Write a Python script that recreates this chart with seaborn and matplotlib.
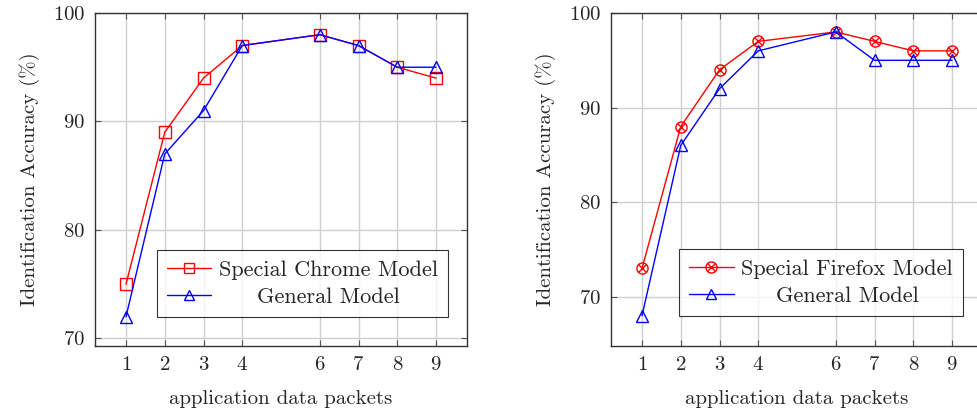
import matplotlib
matplotlib.use("Agg")
import matplotlib.pyplot as plt
import seaborn as sns
from matplotlib.lines import Line2D
from matplotlib.legend_handler import HandlerTuple
from matplotlib.transforms import Affine2D

# ---------------------------------------------------------------------------
# Data
# ---------------------------------------------------------------------------
packets = [1, 2, 3, 4, 6, 7, 8, 9]

chrome_special = [75, 89, 94, 97, 98, 97, 95, 94]
chrome_general = [72, 87, 91, 97, 98, 97, 95, 95]

firefox_special = [73, 88, 94, 97, 98, 97, 96, 96]
firefox_general = [68, 86, 92, 96, 98, 95, 95, 95]

left_yticks = [70, 80, 90, 100]
right_yticks = [70, 80, 90, 100]

# ---------------------------------------------------------------------------
# Style
# ---------------------------------------------------------------------------
sns.set_style("ticks")
plt.rcParams["font.family"] = ["cmr10", "DejaVu Serif"]
plt.rcParams["axes.formatter.use_mathtext"] = True
plt.rcParams["mathtext.fontset"] = "cm"

W, H = 977, 412
fig = plt.figure(figsize=(W / 100, H / 100), dpi=100)

def px_axes(x0, y0, x1, y1):
    # pixel box (top-left origin) -> figure axes
    return fig.add_axes([x0 / W, 1 - y1 / H, (x1 - x0) / W, (y1 - y0) / H])

ax1 = px_axes(95, 13, 467, 346)
ax2 = px_axes(611, 13, 983, 346)

FS = 15
LEG_FS = 16


def style_axes(ax, ylim, yticks):
    ax.set_xlim(0.2, 9.8)
    ax.set_ylim(*ylim)
    ax.set_xticks(packets)
    ax.set_yticks(yticks)
    ax.grid(True, color="#cfcfcf", lw=1.0)
    ax.set_axisbelow(True)
    ax.tick_params(direction="in", top=True, right=True, length=4, width=0.8,
                   color="#555555", labelsize=FS, pad=7)
    for s in ax.spines.values():
        s.set_color("#333333")
        s.set_linewidth(1.0)
    ax.set_xlabel("application data packets", fontsize=FS, labelpad=12)
    ax.set_ylabel("Identification Accuracy (%)", fontsize=FS, labelpad=9)


def make_legend(ax, handles, labels, anchor, **kw):
    leg = ax.legend(handles, labels, loc="lower right", bbox_to_anchor=anchor,
                    fontsize=LEG_FS, frameon=True, fancybox=False, edgecolor="black",
                    handlelength=2.0, borderpad=0.45, labelspacing=0.35,
                    handletextpad=0.35, borderaxespad=0.0, **kw)
    leg.get_frame().set_linewidth(0.8)
    return leg


# ---------------------------------------------------------------------------
# Left: Chrome
# ---------------------------------------------------------------------------
sns.lineplot(x=packets, y=chrome_special, ax=ax1, color="red", lw=1,
             marker="s", ms=8, mfc="none", mec="red", mew=1)
sns.lineplot(x=packets, y=chrome_general, ax=ax1, color="blue", lw=1,
             marker="^", ms=8, mfc="none", mec="blue", mew=1)
style_axes(ax1, (69.3, 100), left_yticks)

h_sq = Line2D([], [], color="red", lw=1, marker="s", ms=7, mfc="none", mec="red")
h_tri = Line2D([], [], color="blue", lw=1, marker="^", ms=7, mfc="none", mec="blue")
leg1 = make_legend(ax1, [h_sq, h_tri], ["Special Chrome Model", "General Model"],
                   (0.949, 0.087))

# ---------------------------------------------------------------------------
# Right: Firefox
# ---------------------------------------------------------------------------
sns.lineplot(x=packets, y=firefox_special, ax=ax2, color="red", lw=1,
             marker="o", ms=8, mfc="none", mec="red", mew=1)
sns.lineplot(x=packets, y=firefox_special, ax=ax2, color="red",
             linestyle="none", marker="x", ms=5.5, mec="red", mew=1)
sns.lineplot(x=packets, y=firefox_general, ax=ax2, color="blue", lw=1,
             marker="^", ms=8, mfc="none", mec="blue", mew=1)
style_axes(ax2, (64.8, 100), right_yticks)

h_o = Line2D([], [], color="red", lw=1, marker="o", ms=8, mfc="none", mec="red")
h_x = Line2D([], [], color="red", lw=0, marker="x", ms=5.5, mec="red")
h_tri2 = Line2D([], [], color="blue", lw=1, marker="^", ms=7, mfc="none", mec="blue")
leg2 = make_legend(ax2, [(h_o, h_x), h_tri2], ["Special Firefox Model", "General Model"],
                   (0.946, 0.09), handler_map={tuple: HandlerTuple(ndivide=1)})

# centre the second legend entry's text, like pgfplots does
fig.canvas.draw()
renderer = fig.canvas.get_renderer()
for leg in (leg1, leg2):
    t0, t1 = leg.get_texts()
    w0 = t0.get_window_extent(renderer).width
    w1 = t1.get_window_extent(renderer).width
    t1.set_transform(t1.get_transform() + Affine2D().translate((w0 - w1) / 2, 0))

fig.savefig("out.png", dpi=100)
plt.close(fig)
